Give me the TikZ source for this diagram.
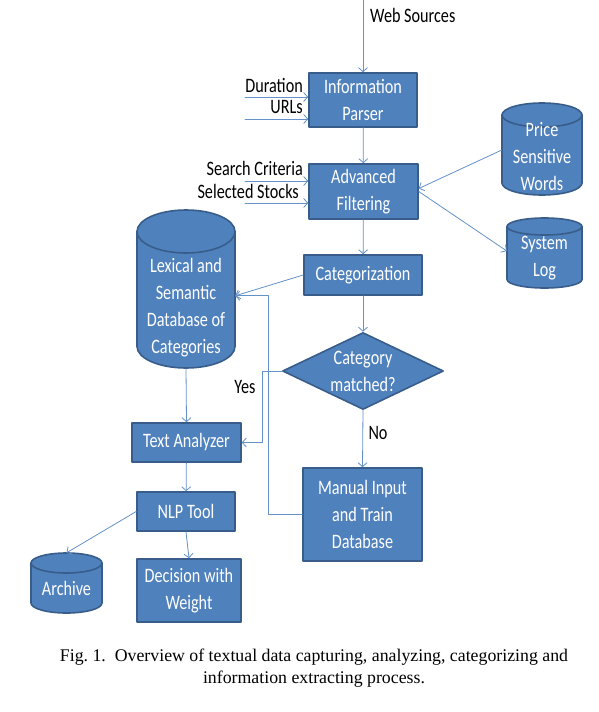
\documentclass[tikz,border=0pt]{standalone}
\usepackage{fontspec}
\setmainfont{Liberation Serif}
\newfontfamily\boxfont{Carlito}[FakeStretch=0.79]
\usetikzlibrary{shapes.geometric,arrows.meta}
\definecolor{BoxFill}{RGB}{79,129,189}
\definecolor{BoxEdge}{RGB}{56,93,138}
\definecolor{LinkBlue}{RGB}{100,145,200}

\tikzset{
  box/.style={rectangle,draw=BoxEdge,line width=1.6pt,fill=BoxFill,text=white,align=center,inner sep=0pt,font=\boxfont\fontsize{20.5}{27}\selectfont},
  dbbody/.style={draw=BoxEdge,line width=1.6pt,fill=BoxFill},
  dbtext/.style={rectangle,text=white,align=center,inner sep=0pt,font=\boxfont\fontsize{20.5}{27}\selectfont},
  decision/.style={diamond,draw=BoxEdge,line width=1.6pt,fill=BoxFill,text=white,align=center,inner sep=0pt,font=\boxfont\fontsize{20.5}{27}\selectfont},
  lbl/.style={inner sep=0pt,font=\boxfont\fontsize{20.5}{22}\selectfont},
  link/.style={draw=LinkBlue,line width=0.8pt,-{Straight Barb[length=4pt,width=9pt]}}
}
% cylinder body: centre x, top, bottom, half width, end radius
\newcommand{\dbcyl}[5]{%
  \path[dbbody] (#1-#4,#2+#5) -- (#1-#4,#3-#5)
    arc[start angle=180,end angle=360,x radius=#4pt,y radius=#5pt]
    -- (#1+#4,#2+#5)
    arc[start angle=0,end angle=180,x radius=#4pt,y radius=#5pt] -- cycle;
  \draw[dbbody,fill=none] (#1-#4,#2+#5) arc[start angle=180,end angle=360,x radius=#4pt,y radius=#5pt];}

\begin{document}
\begin{tikzpicture}[x=1pt,y=-1pt,line cap=round,line join=round]
\path[use as bounding box] (0,0) rectangle (598,712);
% main column
\node[box,minimum width=108,minimum height=54] (parser) at (363,100) {Information\\Parser};
\node[box,minimum width=109,minimum height=55] (filter) at (363.5,191.5) {Advanced\\Filtering};
\node[box,minimum width=118,minimum height=40] (categ) at (363,275) {Categorization};
\node[decision,minimum width=161,minimum height=77,aspect=2.1] (match) at (363,371) {Category\\matched?};
\node[box,minimum width=119,minimum height=93] (manual) at (362.5,514.5) {Manual Input\\and Train\\Database};
% left column
\dbcyl{186}{210}{368}{49}{21.5}
\node[dbtext,minimum width=98,minimum height=120] (lexical) at (186,308) {Lexical and\\Semantic\\Database of\\Categories};
\node[box,minimum width=109,minimum height=39] (textan) at (186.5,442.5) {Text Analyzer};
\node[box,minimum width=98,minimum height=39] (nlp) at (186,511.5) {NLP Tool};
\node[box,minimum width=104,minimum height=63] (decw) at (189,590.5) {Decision with\\Weight};
\dbcyl{66.5}{553}{613}{35.5}{10}
\node[dbtext,minimum width=71,minimum height=50] (archive) at (66.5,588) {Archive};
% right column
\dbcyl{542}{103}{195}{40}{12}
\node[dbtext,minimum width=80,minimum height=76] (price) at (542,157) {Price\\Sensitive\\Words};
\dbcyl{544.5}{218}{288}{37.5}{8.5}
\node[dbtext,minimum width=75,minimum height=60] (syslog) at (544.5,258) {System\\Log};
% inputs
\node[lbl,anchor=west] (web) at (370,15) {Web Sources};
\node[lbl,anchor=east] (dur) at (303,85) {Duration};
\node[lbl,anchor=east] (urls) at (303,107) {URLs};
\node[lbl,anchor=east] (crit) at (303,168) {Search Criteria};
\node[lbl,anchor=east] (stocks) at (299,191) {Selected Stocks};
\coordinate (webIn) at (363,0);
\coordinate (durIn) at (245,97);
\coordinate (urlIn) at (245,119);
\coordinate (critIn) at (245,181);
\coordinate (stockIn) at (245,203);
\draw[link] (webIn) -- (parser);
\draw[link] (durIn) -- (durIn -| parser.west);
\draw[link] (urlIn) -- (urlIn -| parser.west);
\draw[link] (critIn) -- (critIn -| filter.west);
\draw[link] (stockIn) -- (stockIn -| filter.west);
% flow
\draw[link] (parser) -- (filter);
\draw[link] ([yshift=7pt]price.west) -- ([yshift=3pt]filter.east);
\draw[link] (filter.east) -- ([yshift=7pt]syslog.west);
\draw[link] (filter) -- (categ);
\draw[link,{Straight Barb[length=4pt,width=9pt]}-] (lexical.east |- categ.south) -- (categ.west);
\draw[link] (categ) -- (match);
\draw[link] (match.west) -- ++(-19,0) |- (textan.east);
\draw[link] (match.south) -- (manual.north);
\draw[link] (manual.west) -- ++(-34,0) |- (lexical.east |- categ.south);
\draw[link] (lexical.south) -- (textan.north);
\draw[link] (textan) -- (nlp);
\draw[link] (nlp.south) -- (decw.north);
\draw[link] (nlp.west) -- ([yshift=10pt]archive.north);
\node[lbl] (yes) at (245,387) {Yes};
\node[lbl] (no) at (378,433) {No};
% caption
\node[align=center,inner sep=0pt,font=\fontsize{17.8}{22}\selectfont] (cap) at (314,668) {Fig.~1.\ \ Overview of textual data capturing, analyzing, categorizing and\\information extracting process.};
\end{tikzpicture}
\end{document}
